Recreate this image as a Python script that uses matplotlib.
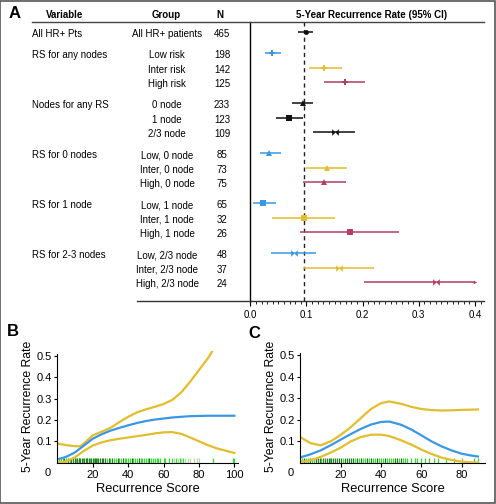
import matplotlib
matplotlib.use("Agg")
import matplotlib.pyplot as plt
from matplotlib.lines import Line2D
from matplotlib.patches import Rectangle
from matplotlib.ticker import MultipleLocator
import matplotlib.transforms as mtransforms

plt.rcParams['font.family'] = ['Liberation Sans', 'DejaVu Sans']

# ---------------- data: panel A ----------------
variables = ["All HR+ Pts", "RS for any nodes", "Nodes for any RS",
             "RS for 0 nodes", "RS for 1 node", "RS for 2-3 nodes"]
groups = ["All HR+ patients", "Low risk", "Inter risk", "High risk",
          "0 node", "1 node", "2/3 node",
          "Low, 0 node", "Inter, 0 node", "High, 0 node",
          "Low, 1 node", "Inter, 1 node", "High, 1 node",
          "Low, 2/3 node", "Inter, 2/3 node", "High, 2/3 node"]
group_var = [0, 1, 1, 1, 2, 2, 2, 3, 3, 3, 4, 4, 4, 5, 5, 5]
n_pts = [465, 198, 142, 125, 233, 123, 109, 85, 73, 75, 65, 32, 26, 48, 37, 24]
rate = [0.099, 0.039, 0.132, 0.169, 0.093, 0.069, 0.150,
        0.034, 0.136, 0.132, 0.023, 0.096, 0.178, 0.077, 0.158, 0.331]
ci_low = [0.085, 0.027, 0.105, 0.132, 0.075, 0.045, 0.112,
          0.017, 0.099, 0.094, 0.005, 0.039, 0.088, 0.036, 0.094, 0.203]
ci_high = [0.112, 0.055, 0.163, 0.205, 0.111, 0.094, 0.186,
           0.054, 0.173, 0.170, 0.046, 0.150, 0.264, 0.117, 0.220, 0.400]
overall_rate = 0.095
x_ticks_A = [0.0, 0.1, 0.2, 0.3, 0.4]

# ---------------- data: panels B and C ----------------
rs_B = [0, 5, 10, 15, 20, 25, 30, 35, 40, 45, 50, 55, 60, 65, 70, 75, 80, 85, 90, 95, 100]
est_B = [0.015, 0.027, 0.048, 0.080, 0.112, 0.133, 0.150, 0.163, 0.175, 0.186, 0.195,
         0.202, 0.207, 0.212, 0.215, 0.218, 0.219, 0.220, 0.220, 0.220, 0.220]
low_B = [0.0, 0.005, 0.025, 0.055, 0.080, 0.095, 0.105, 0.112, 0.118, 0.124, 0.130,
         0.137, 0.142, 0.143, 0.135, 0.118, 0.100, 0.082, 0.067, 0.056, 0.045]
rs_B_up = [0, 5, 10, 13, 15, 20, 25, 30, 35, 40, 45, 50, 55, 60, 65, 70, 75, 80, 85, 88]
up_B = [0.090, 0.082, 0.077, 0.077, 0.090, 0.128, 0.145, 0.163, 0.190, 0.215, 0.236,
        0.250, 0.262, 0.275, 0.295, 0.330, 0.380, 0.435, 0.490, 0.530]

rs_C = [0, 5, 10, 15, 20, 25, 30, 35, 40, 44, 50, 55, 60, 65, 70, 75, 80, 85, 88]
est_C = [0.026, 0.040, 0.058, 0.082, 0.108, 0.134, 0.158, 0.178, 0.190, 0.192, 0.177,
         0.155, 0.128, 0.100, 0.077, 0.058, 0.043, 0.034, 0.030]
up_C = [0.120, 0.092, 0.082, 0.100, 0.130, 0.166, 0.208, 0.250, 0.277, 0.285, 0.274,
        0.260, 0.250, 0.245, 0.243, 0.244, 0.246, 0.247, 0.248]
low_C = [0.005, 0.012, 0.028, 0.048, 0.071, 0.100, 0.120, 0.131, 0.131, 0.125, 0.105,
         0.085, 0.062, 0.042, 0.025, 0.014, 0.006, 0.003, 0.002]

rug_B_dark = [4, 6, 8, 9, 10, 11, 12, 13, 14, 15, 16, 17, 18, 19, 20, 21, 22, 23, 24,
              25, 26, 27, 29, 31, 34, 37, 42, 46, 52]
rug_B_light = [1, 2, 3, 5, 7, 10.5, 12.5, 14.5, 16.5, 18.5, 20.5, 22.5, 28, 30, 32, 33,
               35, 36, 38, 39, 40, 41, 43, 44, 45, 47, 48, 49, 50, 51, 53, 54, 55, 56,
               57, 58, 60, 61, 63, 65, 67, 69, 71, 88, 99, 100]
rug_B_pale = [66, 68, 70, 72, 74, 75, 77, 79, 80]
rug_C_dark = [2, 5, 8, 9, 10, 11, 12, 13, 14, 15, 16, 17, 18, 19, 20, 22, 23, 24, 25,
              26, 28, 30, 33, 35, 38, 42, 47, 48, 50]
rug_C_light = [1, 3, 4, 6, 7, 10.5, 14.5, 21, 27, 29, 31, 32, 34, 36, 37, 39, 40, 41,
               43, 44, 45, 46, 49, 51, 52, 53, 55, 57, 58, 60, 62, 64, 66, 68, 72, 76,
               80, 86, 88]
x_ticks_B = [20, 40, 60, 80, 100]
x_ticks_C = [20, 40, 60, 80]
y_ticks_BC = [0.1, 0.2, 0.3, 0.4, 0.5]

# ---------------- styles ----------------
BLUE = "#3a98e2"
YELLOW = "#e2bd2e"
RED = "#b23e62"
BLACK = "#111111"
row_colors = [BLACK, BLUE, YELLOW, RED, BLACK, BLACK, BLACK,
              BLUE, YELLOW, RED, BLUE, YELLOW, RED, BLUE, YELLOW, RED]
bowtie = [(-1, -1), (1, 1), (1, -1), (-1, 1)]
row_markers = ['o', 'P', 'P', 'P', '^', 's', bowtie,
               '^', '^', '^', 's', 's', 's', bowtie, bowtie, bowtie]

W, H = 496, 504
fig = plt.figure(figsize=(W / 100, H / 100), dpi=100)


def fx(x):
    return x / W


def fy(y):
    return 1 - y / H


# frame around figure
fig.add_artist(Rectangle((0.001, 0.001), 0.997, 0.997, transform=fig.transFigure,
                         fill=False, edgecolor="#555555", lw=1.2))

# ---------------- panel A ----------------
axA = fig.add_axes([fx(250), fy(301), fx(484) - fx(250), fy(22) - fy(301)])
x0 = (250 - 250.3) / 561.7
x1 = (484 - 250.3) / 561.7
axA.set_xlim(x0, x1)
row_y = [i + 0.45 * g for i, g in enumerate(group_var)]
axA.set_ylim(18.55, -0.69)
for s in ["top", "right"]:
    axA.spines[s].set_visible(False)
axA.spines["left"].set_linewidth(1.0)
axA.spines["bottom"].set_linewidth(1.0)
axA.spines["bottom"].set_color("#333333")
axA.set_yticks([])
axA.set_xticks(x_ticks_A)
axA.set_xticklabels([f"{v:.1f}" for v in x_ticks_A], fontsize=7)
axA.xaxis.set_minor_locator(MultipleLocator(0.01))
axA.tick_params(axis="x", which="major", length=3.5, width=0.8, pad=3)
axA.tick_params(axis="x", which="minor", length=2, width=0.6)
axA.axvline(overall_rate, color="#222222", ls=(0, (3, 2.5)), lw=1.0)

for i in range(len(groups)):
    y = row_y[i]
    c = row_colors[i]
    axA.plot([ci_low[i], ci_high[i]], [y, y], color=c, lw=1.3, alpha=0.85,
             solid_capstyle="butt", clip_on=False)
    ms = 3.5 if row_markers[i] == 'o' else 4.8
    axA.plot(rate[i], y, marker=row_markers[i], color=c, ms=ms, mew=0, ls="none",
             clip_on=False)
axA.plot(ci_high[-1], row_y[-1], marker='>', color=RED, ms=2.5, mew=0, clip_on=False)

# text columns
text_tr = mtransforms.blended_transform_factory(fig.transFigure, axA.transData)
text_tr = mtransforms.offset_copy(text_tr, fig=fig, x=0, y=-2.3, units='dots')
first_rows = {}
for i, g in enumerate(group_var):
    first_rows.setdefault(g, i)
for g, i in first_rows.items():
    fig.text(fx(32), row_y[i], variables[g], transform=text_tr, fontsize=7,
             ha="left", va="center")
for i in range(len(groups)):
    fig.text(fx(167), row_y[i], groups[i], transform=text_tr, fontsize=7,
             ha="center", va="center")
    fig.text(fx(222), row_y[i], str(n_pts[i]), transform=text_tr, fontsize=7,
             ha="center", va="center")

# headers
fig.text(fx(64.5), fy(15), "Variable", fontsize=7, fontweight="bold", ha="center", va="center")
fig.text(fx(166.5), fy(15), "Group", fontsize=7, fontweight="bold", ha="center", va="center")
fig.text(fx(220), fy(15), "N", fontsize=7, fontweight="bold", ha="center", va="center")
fig.text(fx(372), fy(15), "5-Year Recurrence Rate (95% CI)", fontsize=7,
         fontweight="bold", ha="center", va="center")
fig.add_artist(Line2D([fx(32), fx(484)], [fy(22), fy(22)], transform=fig.transFigure,
                      color="#444444", lw=1.0))
fig.add_artist(Line2D([fx(137), fx(251)], [fy(301), fy(301)], transform=fig.transFigure,
                      color="#333333", lw=1.0))
fig.text(fx(15), fy(14), "A", fontsize=12, fontweight="bold", ha="center", va="center")


# ---------------- panels B and C ----------------
def curve_panel(rect, xmax, rs_est, est, rs_up, up, rs_low, low, rug_sets, xticks, zero_x):
    ax = fig.add_axes(rect)
    ax.set_xlim(0, xmax)
    ax.set_ylim(0, 0.525)
    for s in ["top", "right"]:
        ax.spines[s].set_visible(False)
    ax.spines["left"].set_bounds(0, 0.51)
    ax.spines["left"].set_linewidth(0.8)
    ax.spines["bottom"].set_linewidth(0.8)
    ax.spines["left"].set_zorder(5)
    for vals, col in rug_sets:
        ax.vlines(vals, 0, 0.022, colors=col, lw=0.9, zorder=2)
    ax.plot(rs_up, up, color=YELLOW, lw=1.6, zorder=3)
    ax.plot(rs_low, low, color=YELLOW, lw=1.6, zorder=3, clip_on=True)
    ax.plot(rs_est, est, color=BLUE, lw=1.6, zorder=4)
    ax.set_xticks(xticks)
    ax.set_xticklabels([str(v) for v in xticks], fontsize=8)
    ax.set_yticks(y_ticks_BC)
    ax.set_yticklabels([f"{v:.1f}" for v in y_ticks_BC], fontsize=8)
    ax.tick_params(axis="y", length=2.5, width=0.8, pad=1.5)
    ax.tick_params(axis="x", length=3, width=0.8, pad=2)
    ax.set_xlabel("Recurrence Score", fontsize=9.3, labelpad=2.5)
    ax.set_ylabel("5-Year Recurrence Rate", fontsize=8.8, labelpad=2)
    fig.text(fx(zero_x), fy(473), "0", fontsize=8, ha="center", va="center")
    return ax


curve_panel([fx(57.3), fy(462.6), fx(238) - fx(57.3), fy(350.8) - fy(462.6)], 102,
            rs_B, est_B, rs_B_up, up_B, rs_B, low_B,
            [(rug_B_pale, "#b8d8b0"), (rug_B_light, "#33dd33"), (rug_B_dark, "#2a7a2a")],
            x_ticks_B, 47.7)
curve_panel([fx(300.3), fy(463), fx(485) - fx(300.3), fy(349.6) - fy(463)], 91.5,
            rs_C, est_C, rs_C, up_C, rs_C, low_C,
            [(rug_C_light, "#33dd33"), (rug_C_dark, "#2a7a2a")],
            x_ticks_C, 291)

fig.text(fx(13), fy(332), "B", fontsize=12, fontweight="bold", ha="center", va="center")
fig.text(fx(254), fy(333), "C", fontsize=12, fontweight="bold", ha="center", va="center")

fig.savefig("out.png", dpi=100)
